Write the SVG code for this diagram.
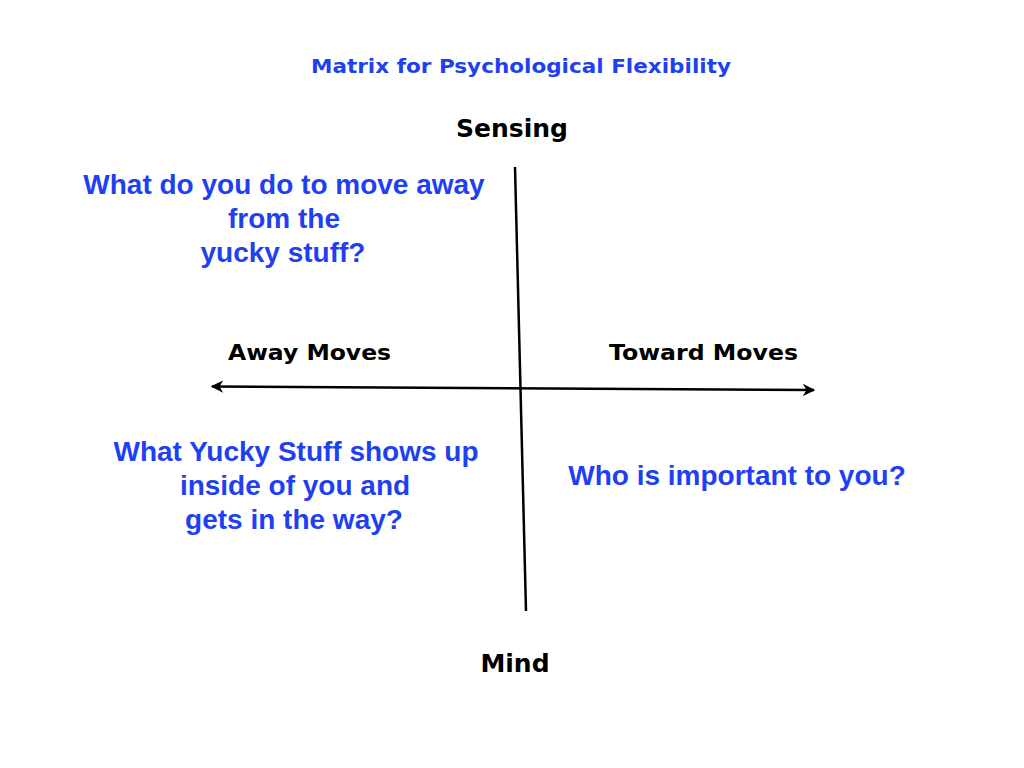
<svg xmlns="http://www.w3.org/2000/svg" width="1024" height="768" viewBox="0 0 1024 768">
<style>
.blue{font-family:"Liberation Sans",Arial,sans-serif;font-weight:bold;font-size:28px;fill:#1f3ff2;text-anchor:middle}
.title{font-family:"DejaVu Sans","Liberation Sans",sans-serif;font-weight:bold;font-size:20px;fill:#1f3ff2;text-anchor:middle}
.axis{font-family:"DejaVu Sans","Liberation Sans",sans-serif;font-weight:bold;font-size:21px;fill:#000;text-anchor:middle}
.pole{font-family:"DejaVu Sans",sans-serif;font-weight:bold;font-size:25px;fill:#000;text-anchor:middle}
.line{stroke:#000;stroke-width:2.5;fill:none}
</style>
<defs>
<marker id="arr" viewBox="0 0 10 10" refX="9" refY="5" markerWidth="5" markerHeight="5" orient="auto-start-reverse" markerUnits="strokeWidth">
<path d="M0,0 L10,5 L0,10 L3,5 Z" fill="#000"/>
</marker>
</defs>
<rect width="1024" height="768" fill="#fff"/>
<g id="connectors">
<line class="line" x1="515" y1="167" x2="526" y2="611"/>
<line class="line" x1="212" y1="386.5" x2="814" y2="390" marker-start="url(#arr)" marker-end="url(#arr)"/>
</g>
<g id="title"><text class="title" x="521" y="73" textLength="420" lengthAdjust="spacingAndGlyphs">Matrix for Psychological Flexibility</text></g>
<g id="sensing"><text class="pole" x="512" y="137">Sensing</text></g>
<g id="mind"><text class="pole" x="515" y="672">Mind</text></g>
<g id="away"><text class="axis" x="309.5" y="360" textLength="163" lengthAdjust="spacingAndGlyphs">Away Moves</text></g>
<g id="toward"><text class="axis" x="703.5" y="360" textLength="189" lengthAdjust="spacingAndGlyphs">Toward Moves</text></g>
<g id="q-away">
<text class="blue" x="284" y="194">What do you do to move away</text>
<text class="blue" x="284" y="228">from the</text>
<text class="blue" x="283" y="262">yucky stuff?</text>
</g>
<g id="q-yucky">
<text class="blue" x="296" y="461">What Yucky Stuff shows up</text>
<text class="blue" x="295" y="495">inside of you and</text>
<text class="blue" x="294" y="529">gets in the way?</text>
</g>
<g id="q-important">
<text class="blue" x="737" y="485">Who is important to you?</text>
</g>
</svg>
